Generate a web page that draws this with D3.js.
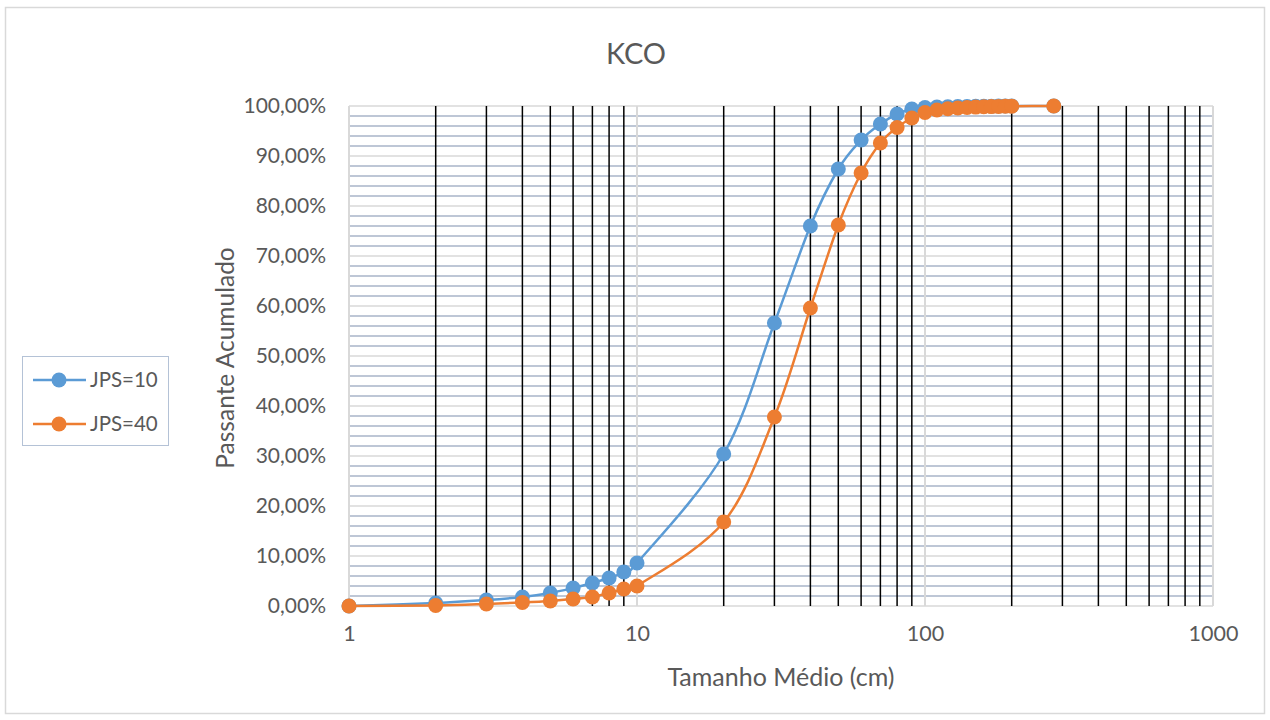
<!DOCTYPE html>
<html>
<head>
<meta charset="utf-8">
<script src="https://cdn.jsdelivr.net/npm/d3@7"></script>
<style>
  html, body { margin: 0; padding: 0; background: #fff; }
  svg { display: block; font-family: Lato, "Open Sans", sans-serif; }
</style>
</head>
<body>
<svg id="chart" width="1270" height="720"></svg>
<script>
// ---- data ----
const title = "KCO";
const xTitle = "Tamanho Médio (cm)";
const yTitle = "Passante Acumulado";
const sizes = [1,2,3,4,5,6,7,8,9,10,20,30,40,50,60,70,80,90,100,110,120,130,140,150,160,170,180,190,200,280];
const seriesNames = ["JPS=10", "JPS=40"];
const jps10 = [0.0,0.6,1.2,1.8,2.6,3.6,4.6,5.6,6.8,8.6,30.4,56.6,76.0,87.4,93.2,96.4,98.4,99.4,99.7,99.8,99.85,99.9,99.92,99.94,99.96,99.97,99.98,99.99,100,100];
const jps40 = [0.0,0.1,0.4,0.7,1.0,1.4,1.8,2.6,3.4,4.0,16.8,37.8,59.6,76.2,86.6,92.6,95.7,97.6,98.7,99.2,99.45,99.6,99.7,99.78,99.84,99.88,99.92,99.95,99.97,100];
const yTicks = [0,10,20,30,40,50,60,70,80,90,100];
const xTicks = [1,10,100,1000];
const colors = ["#5B9BD5", "#ED7D31"];

// ---- layout ----
const svg = d3.select("#chart");
const pL = 349, pR = 1213, pT = 106, pB = 606;
const x = d3.scaleLog().domain([1, 1000]).range([pL, pR]);
const y = d3.scaleLinear().domain([0, 100]).range([pB, pT]);
const txt = "#595959";

// outer border
svg.append("rect").attr("x", 5.5).attr("y", 7.5).attr("width", 1259).attr("height", 706)
  .attr("fill", "#fff").attr("stroke", "#d9d9d9").attr("stroke-width", 1.5);

// minor horizontal gridlines (every 2%)
const minorY = d3.range(0, 101, 2).filter(v => v % 10 !== 0);
svg.append("g").selectAll("line").data(minorY).join("line")
  .attr("x1", pL).attr("x2", pR)
  .attr("y1", d => y(d)).attr("y2", d => y(d))
  .attr("stroke", "#a9b5c8").attr("stroke-width", 1.5);

// major horizontal gridlines
svg.append("g").selectAll("line").data(yTicks).join("line")
  .attr("x1", pL).attr("x2", pR)
  .attr("y1", d => y(d)).attr("y2", d => y(d))
  .attr("stroke", "#d9d9d9").attr("stroke-width", 1.5);

// minor vertical gridlines (black)
const minorX = [];
[1, 10, 100].forEach(dec => { for (let k = 2; k <= 9; k++) minorX.push(dec * k); });
svg.append("g").selectAll("line").data(minorX).join("line")
  .attr("x1", d => x(d)).attr("x2", d => x(d))
  .attr("y1", pT).attr("y2", pB)
  .attr("stroke", "#000").attr("stroke-width", 1.5);

// major vertical gridlines
svg.append("g").selectAll("line").data(xTicks).join("line")
  .attr("x1", d => x(d)).attr("x2", d => x(d))
  .attr("y1", pT).attr("y2", pB)
  .attr("stroke", "#d9d9d9").attr("stroke-width", 2);

// axes (labels only)
const yAxis = d3.axisLeft(y).tickValues(yTicks)
  .tickFormat(d => d.toFixed(2).replace(".", ",") + "%").tickSize(0).tickPadding(23);
const gy = svg.append("g").attr("transform", `translate(${pL},0)`).call(yAxis);
gy.select(".domain").remove();
gy.selectAll("text").attr("fill", txt).attr("font-size", 21).attr("font-family", "Lato, sans-serif");

const xAxis = d3.axisBottom(x).tickValues(xTicks).tickFormat(d3.format("d")).tickSize(0).tickPadding(20);
const gx = svg.append("g").attr("transform", `translate(0,${pB})`).call(xAxis);
gx.select(".domain").remove();
gx.selectAll("text").attr("fill", txt).attr("font-size", 21.5).attr("font-family", "Lato, sans-serif");

// series
const allSeries = [jps10, jps40];
const line = d3.line().x(d => x(d[0])).y(d => y(d[1])).curve(d3.curveCatmullRom.alpha(0));
allSeries.forEach((vals, i) => {
  const pts = sizes.map((s, j) => [s, vals[j]]);
  svg.append("path").datum(pts).attr("d", line)
    .attr("fill", "none").attr("stroke", colors[i]).attr("stroke-width", 2.5);
  svg.append("g").selectAll("circle").data(pts).join("circle")
    .attr("cx", d => x(d[0])).attr("cy", d => y(d[1])).attr("r", 7.5)
    .attr("fill", colors[i]);
});

// title
svg.append("text").attr("x", 636).attr("y", 64).attr("text-anchor", "middle")
  .attr("fill", txt).attr("font-size", 29).text(title);

// axis titles
svg.append("text").attr("x", 781).attr("y", 686).attr("text-anchor", "middle")
  .attr("fill", txt).attr("font-size", 25).text(xTitle);
svg.append("text").attr("transform", "translate(234,358) rotate(-90)").attr("text-anchor", "middle")
  .attr("fill", txt).attr("font-size", 24.5).text(yTitle);

// legend
const lg = svg.append("g");
lg.append("rect").attr("x", 22.5).attr("y", 356.5).attr("width", 146).attr("height", 89)
  .attr("fill", "#fff").attr("stroke", "#b4c2d6").attr("stroke-width", 1);
seriesNames.forEach((name, i) => {
  const cy = 380 + i * 44;
  lg.append("line").attr("x1", 33).attr("x2", 86).attr("y1", cy).attr("y2", cy)
    .attr("stroke", colors[i]).attr("stroke-width", 2.5);
  lg.append("circle").attr("cx", 59).attr("cy", cy).attr("r", 7.5).attr("fill", colors[i]);
  lg.append("text").attr("x", 90).attr("y", cy).attr("dy", "0.35em")
    .attr("fill", txt).attr("font-size", 20.5).text(name);
});
</script>
</body>
</html>
